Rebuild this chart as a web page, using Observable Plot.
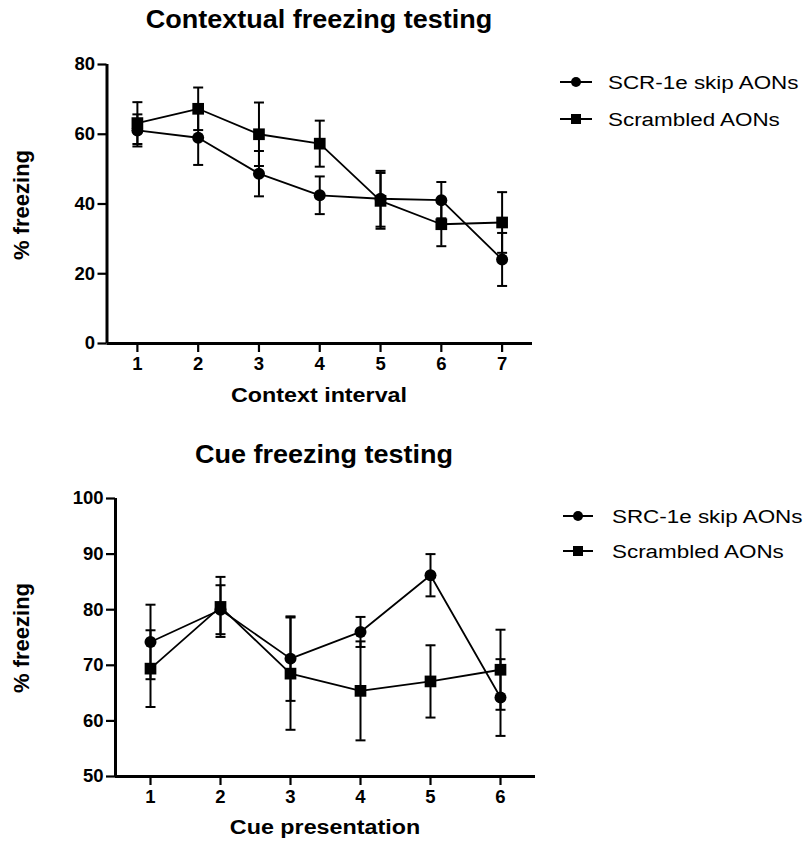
<!DOCTYPE html>
<html>
<head>
<meta charset="utf-8">
<script src="https://cdn.jsdelivr.net/npm/d3@7"></script>
<script src="https://cdn.jsdelivr.net/npm/@observablehq/plot@0.6"></script>
<style>
  html, body { margin: 0; padding: 0; background: #fff; }
  #wrap { position: relative; width: 809px; height: 841px; overflow: hidden; font-family: "Liberation Sans", Arial, sans-serif; }
  .plot { position: absolute; left: 0; }
  #overlay { position: absolute; left: 0; top: 0; }
</style>
</head>
<body>
<div id="wrap">
  <div id="p1" class="plot" style="top:0px"></div>
  <div id="p2" class="plot" style="top:430px"></div>
  <svg id="overlay" width="809" height="841"></svg>
</div>
<script>
// ---- Data: Contextual freezing testing ----
const contextIntervals = [1, 2, 3, 4, 5, 6, 7];
const ctxSkipMean   = [61.1, 59.0, 48.7, 42.5, 41.5, 41.1, 24.1];
const ctxSkipSem    = [4.6, 7.8, 6.5, 5.4, 8.0, 5.2, 7.6];
const ctxScramMean  = [63.2, 67.3, 60.0, 57.3, 40.9, 34.2, 34.7];
const ctxScramSem   = [6.0, 6.1, 9.1, 6.6, 8.0, 6.3, 8.7];
const ctxYTicks = [0, 20, 40, 60, 80];

// ---- Data: Cue freezing testing ----
const cuePresentations = [1, 2, 3, 4, 5, 6];
const cueSkipMean   = [74.2, 80.0, 71.2, 76.0, 86.2, 64.2];
const cueSkipSem    = [6.7, 4.4, 7.6, 2.7, 3.8, 6.9];
const cueScramMean  = [69.4, 80.5, 68.5, 65.4, 67.1, 69.2];
const cueScramSem   = [6.9, 5.4, 10.1, 8.9, 6.5, 7.2];
const cueYTicks = [50, 60, 70, 80, 90, 100];

const topTitle = "Contextual freezing testing";
const topXLabel = "Context interval";
const topLegend = ["SCR-1e skip AONs", "Scrambled AONs"];
const botTitle = "Cue freezing testing";
const botXLabel = "Cue presentation";
const botLegend = ["SRC-1e skip AONs", "Scrambled AONs"];
const yLabel = "% freezing";

const capSymbol = { draw(ctx) { ctx.moveTo(-5, 0); ctx.lineTo(5, 0); } };

function rows(xs, m, e) { return xs.map((x, i) => ({ x, m: m[i], e: e[i] })); }

function seriesMarks(data, symbol, r) {
  return [
    Plot.ruleX(data, { x: "x", y1: d => d.m - d.e, y2: d => d.m + d.e, stroke: "black", strokeWidth: 2 }),
    Plot.dot(data, { x: "x", y: d => d.m + d.e, symbol: capSymbol, stroke: "black", fill: "none", strokeWidth: 2 }),
    Plot.dot(data, { x: "x", y: d => d.m - d.e, symbol: capSymbol, stroke: "black", fill: "none", strokeWidth: 2 }),
    Plot.line(data, { x: "x", y: "m", stroke: "black", strokeWidth: 1.8 }),
    Plot.dot(data, { x: "x", y: "m", symbol, r, fill: "black", stroke: "none" })
  ];
}

const tickFont = { fontSize: 18.5, fontWeight: "bold", fontFamily: "'Liberation Sans', Arial, sans-serif", fill: "black" };

function chart({ xs, a, b, xDomain, yDomain, yTicks, height, mt, mb, ml, mr }) {
  return Plot.plot({
    width: 560, height,
    marginTop: mt, marginBottom: mb, marginLeft: ml, marginRight: mr,
    x: { domain: xDomain },
    y: { domain: yDomain },
    style: { fontFamily: "'Liberation Sans', Arial, sans-serif", fontSize: "18.5px", fontWeight: "bold", color: "black", background: "transparent", overflow: "visible" },
    marks: [
      Plot.axisY({ ticks: yTicks, tickSize: 9, tickPadding: 3, strokeWidth: 2.2, stroke: "black", label: null, tickFormat: d => String(d), ...tickFont }),
      Plot.axisX({ ticks: xs, tickSize: 9, tickPadding: 4, strokeWidth: 2.2, stroke: "black", label: null, tickFormat: d => String(d), ...tickFont }),
      Plot.ruleX([xDomain[0]], { stroke: "black", strokeWidth: 3 }),
      Plot.ruleY([yDomain[0]], { stroke: "black", strokeWidth: 3 }),
      ...seriesMarks(a, "circle", 6),
      ...seriesMarks(b, "square", 6.6)
    ]
  });
}

document.getElementById("p1").append(chart({
  xs: contextIntervals,
  a: rows(contextIntervals, ctxSkipMean, ctxSkipSem),
  b: rows(contextIntervals, ctxScramMean, ctxScramSem),
  xDomain: [0.5, 7.5], yDomain: [0, 80], yTicks: ctxYTicks,
  height: 420, mt: 64, mb: 77, ml: 106.5, mr: 28
}));
document.getElementById("p2").append(chart({
  xs: cuePresentations,
  a: rows(cuePresentations, cueSkipMean, cueSkipSem),
  b: rows(cuePresentations, cueScramMean, cueScramSem),
  xDomain: [0.5, 6.5], yDomain: [50, 100], yTicks: cueYTicks,
  height: 411, mt: 68, mb: 65, ml: 115, mr: 25
}));

// ---- Overlay texts and legends ----
const ov = d3.select("#overlay");
function label(text, x, y, size, sx, opts = {}) {
  const g = ov.append("g").attr("transform", `translate(${x},${y}) rotate(${opts.rotate || 0}) scale(${sx},1)`);
  g.append("text").attr("text-anchor", opts.anchor || "middle")
    .attr("font-family", "'Liberation Sans', Arial, sans-serif")
    .attr("font-weight", opts.weight || "bold")
    .attr("font-size", size).attr("fill", "black").text(text);
}
label(topTitle, 319, 28, 25, 1.08);
label(topXLabel, 319, 402, 21, 1.11);
label(yLabel, 29, 205, 22, 1, { rotate: -90 });
label(botTitle, 324, 463, 25, 1.08);
label(botXLabel, 325, 834, 21, 1.11);
label(yLabel, 29, 638, 22, 1, { rotate: -90 });

function legend(x0, x1, tx, ys, names) {
  const syms = ["circle", "square"];
  names.forEach((n, i) => {
    const y = ys[i];
    ov.append("line").attr("x1", x0).attr("x2", x1).attr("y1", y).attr("y2", y).attr("stroke", "black").attr("stroke-width", 2);
    const cx = (x0 + x1) / 2;
    if (syms[i] === "circle") ov.append("circle").attr("cx", cx).attr("cy", y).attr("r", 5).attr("fill", "black");
    else ov.append("rect").attr("x", cx - 5).attr("y", y - 5).attr("width", 10).attr("height", 10).attr("fill", "black");
    label(n, tx, y + 7, 19, 1.18, { anchor: "start", weight: "normal" });
  });
}
legend(560, 592, 608, [82, 119], topLegend);
legend(563, 593, 612, [516, 551], botLegend);
</script>
</body>
</html>
